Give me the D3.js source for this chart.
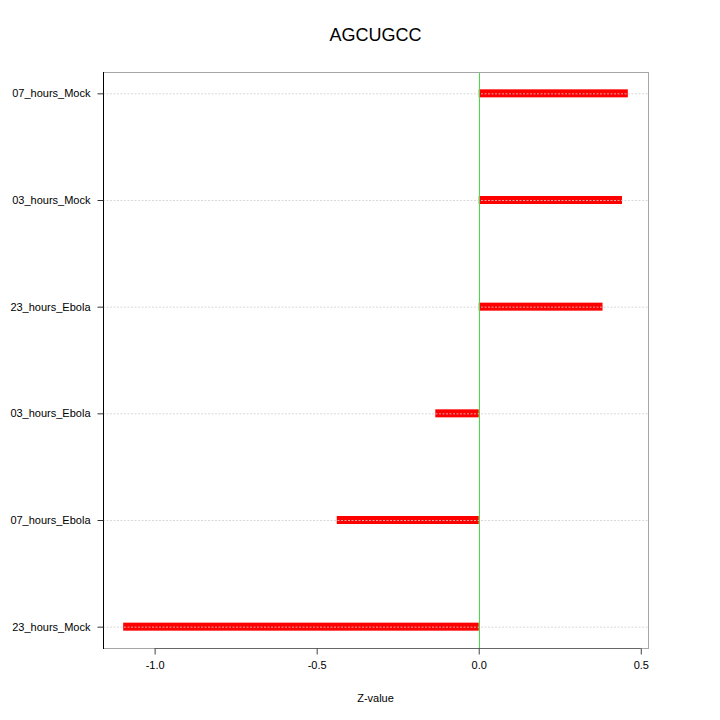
<!DOCTYPE html>
<html>
<head>
<meta charset="utf-8">
<script src="https://d3js.org/d3.v7.min.js"></script>
<style>
  body { margin: 0; background: #fff; }
  text { font-family: "Liberation Sans", Arial, sans-serif; fill: #000; }
</style>
</head>
<body>
<svg></svg>
<script>
// data, bottom to top as in the picture
var samples = ["23_hours_Mock", "07_hours_Ebola", "03_hours_Ebola", "23_hours_Ebola", "03_hours_Mock", "07_hours_Mock"];
var zValues = [-1.097, -0.438, -0.134, 0.382, 0.442, 0.460];
var xTicks = [-1.0, -0.5, 0.0, 0.5];

var width = 720, height = 720;
var plotLeft = 103, plotRight = 648, plotTop = 72, plotBottom = 648;

var svg = d3.select("svg").attr("width", width).attr("height", height);

// lattice style: pad the data range by 4% on each side
var lo = d3.min(zValues), hi = d3.max(zValues), pad = (hi - lo) * 0.04;
var x = d3.scaleLinear().domain([lo - pad, hi + pad]).range([plotLeft, plotRight]);
var y = d3.scalePoint().domain(samples).range([plotBottom, plotTop]).padding(0.2);

// title
svg.append("text")
    .attr("x", (plotLeft + plotRight) / 2)
    .attr("y", 41)
    .attr("text-anchor", "middle")
    .attr("font-size", 18)
    .text("AGCUGCC");

// bars
svg.selectAll("rect.bar").data(samples).enter()
    .append("rect")
    .attr("class", "bar")
    .attr("x", function (d, i) { return x(Math.min(0, zValues[i])); })
    .attr("width", function (d, i) { return Math.abs(x(zValues[i]) - x(0)); })
    .attr("y", function (d) { return y(d) - 4; })
    .attr("height", 8)
    .attr("fill", "#ff0000");

// dotted reference lines
svg.selectAll("line.ref").data(samples).enter()
    .append("line")
    .attr("class", "ref")
    .attr("x1", plotLeft).attr("x2", plotRight)
    .attr("y1", function (d) { return y(d) + 0.5; })
    .attr("y2", function (d) { return y(d) + 0.5; })
    .attr("stroke", "#d0d0d0")
    .attr("stroke-opacity", 0.8)
    .attr("stroke-dasharray", "2,1.5");

// zero line
svg.append("line")
    .attr("x1", Math.round(x(0)) + 0.5).attr("x2", Math.round(x(0)) + 0.5)
    .attr("y1", plotTop).attr("y2", plotBottom)
    .attr("stroke", "#44dd44");

// frame
svg.append("rect")
    .attr("x", plotLeft + 0.5).attr("y", plotTop + 0.5)
    .attr("width", plotRight - plotLeft).attr("height", plotBottom - plotTop)
    .attr("fill", "none")
    .attr("stroke", "#a6a6a6");
svg.append("line")
    .attr("x1", plotLeft + 0.5).attr("x2", plotLeft + 0.5)
    .attr("y1", plotTop).attr("y2", plotBottom + 1)
    .attr("stroke", "#000");

// x axis
var fmt = d3.format(".1f");
var xAxis = svg.append("g")
    .attr("transform", "translate(0," + (plotBottom + 0.5) + ")")
    .call(d3.axisBottom(x).tickValues(xTicks)
        .tickFormat(function (d) { return fmt(d).replace("\u2212", "-"); })
        .tickSizeOuter(0).tickSize(6).tickPadding(7));
xAxis.select(".domain")
    .attr("d", "M" + x(xTicks[0]) + ",0H" + x(xTicks[xTicks.length - 1]))
    .attr("stroke", "#666");
xAxis.selectAll(".tick line").attr("stroke", "#444");
xAxis.selectAll(".tick text").attr("font-size", 11).attr("font-family", "Liberation Sans, Arial, sans-serif");

// y axis
var yAxis = svg.append("g")
    .attr("transform", "translate(" + (plotLeft + 0.5) + ",0)")
    .call(d3.axisLeft(y).tickSizeOuter(0).tickSize(6).tickPadding(7));
yAxis.select(".domain").remove();
yAxis.selectAll(".tick line").attr("stroke", "#333");
yAxis.selectAll(".tick text").attr("font-size", 11).attr("font-family", "Liberation Sans, Arial, sans-serif");

// x label
svg.append("text")
    .attr("x", (plotLeft + plotRight) / 2)
    .attr("y", 702)
    .attr("text-anchor", "middle")
    .attr("font-size", 11)
    .text("Z-value");
</script>
</body>
</html>
